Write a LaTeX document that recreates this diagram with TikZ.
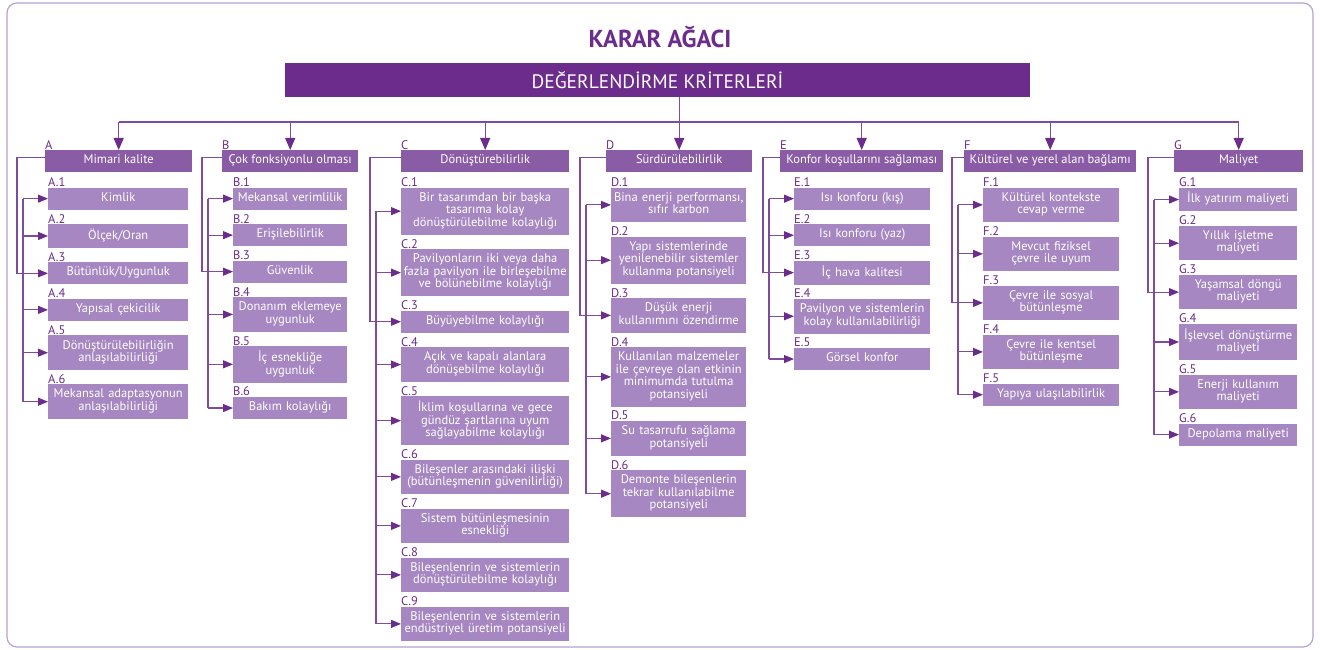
\documentclass[tikz,border=0pt]{standalone}
\usepackage{fontspec}
\setmainfont{PT Sans}
\usepackage{tikz}
\usetikzlibrary{arrows.meta}
\usetikzlibrary{positioning}
\definecolor{treePurple}{HTML}{6B2C8C}
\definecolor{treeMid}{HTML}{8A5CA6}
\definecolor{treeLight}{HTML}{A687C1}
\definecolor{treeLine}{HTML}{7E4C9F}
\definecolor{treeFrame}{HTML}{B9A0CF}

\begin{document}
\begin{tikzpicture}[x=1pt,y=-1pt]
\tikzset{Frame/.style={draw=treeFrame, line width=1.2pt, rounded corners=10pt}}
\tikzset{Header/.style={
  fill=treePurple,
  text=white,
  minimum width=745pt,
  minimum height=34pt,
  font=\fontsize{19.5}{21}\selectfont,
}}
\tikzset{FirstLevel/.style={
  fill=treeMid,
  text=white,
  anchor=north west,
  minimum width=#1,
  minimum height=22pt,
  inner sep=0pt,
  text height=8.75pt,
  text depth=3.75pt,
  font=\fontsize{12.5}{12.5}\selectfont,
}}
\tikzset{SecondLevel/.style={
  fill=treeLight,
  text=white,
  align=center,
  text width=#1,
  inner xsep=2pt,
  inner ysep=4.75pt,
  font=\fontsize{12.5}{12.5}\selectfont,
  execute at begin node={\lineskiplimit=-\maxdimen\relax\strut},
  execute at end node=\strut,
}}
\tikzset{Num/.style={
  label={[anchor=south west, inner sep=0pt, yshift=0.5pt, text=treePurple,
          font=\fontsize{12.5}{13}\selectfont]north west:#1}
}}
\tikzset{Link/.style={draw=treeLine, line width=1.1pt}}
\tikzset{LinkArrow/.style={Link, -{Triangle[length=10pt, width=8pt, color=treePurple]}}}
\tikzset{TopArrow/.style={Link, -{Triangle[length=12pt, width=10pt, color=treePurple]}}}

\useasboundingbox (0,0) rectangle (1320,650);
\draw[Frame] (7,3) rectangle (1313,647);

\node[font=\bfseries\fontsize{24.5}{26}\selectfont, text=treePurple] (title) at (660,37) {KARAR AĞACI};
\node[Header] (hdr) at (657.5,80) {DEĞERLENDİRME KRİTERLERİ};

% main criteria
\node[FirstLevel=147pt, Num=A] (catA) at (45,150) {Mimari kalite};
\node[FirstLevel=136pt, Num=B] (catB) at (222,150) {Çok fonksiyonlu olması};
\node[FirstLevel=168pt, Num=C] (catC) at (401,150) {Dönüştürebilirlik};
\node[FirstLevel=146pt, Num=D] (catD) at (606,150) {Sürdürülebilirlik};
\node[FirstLevel=163pt, Num=E] (catE) at (780,150) {Konfor koşullarını sağlaması};
\node[FirstLevel=172pt, Num=F] (catF) at (964,150) {Kültürel ve yerel alan bağlamı};
\node[FirstLevel=129pt, Num=G] (catG) at (1174,150) {Maliyet};

% A
\node[SecondLevel=136pt, Num=A.1, below right=15pt and 3pt of catA.south west] (a1) {Kimlik};
\node[SecondLevel=136pt, Num=A.2, below=14pt of a1] (a2) {Ölçek/Oran};
\node[SecondLevel=136pt, Num=A.3, below=14pt of a2] (a3) {Bütünlük/Uygunluk};
\node[SecondLevel=136pt, Num=A.4, below=14pt of a3] (a4) {Yapısal çekicilik};
\node[SecondLevel=136pt, Num=A.5, below=14pt of a4] (a5) {Dönüştürülebilirliğin\\anlaşılabilirliği};
\node[SecondLevel=136pt, Num=A.6, below=14pt of a5] (a6) {Mekansal adaptasyonun\\anlaşılabilirliği};

% B
\node[SecondLevel=110pt, Num=B.1, below right=15pt and 11pt of catB.south west] (b1) {Mekansal verimlilik};
\node[SecondLevel=110pt, Num=B.2, below=14pt of b1] (b2) {Erişilebilirlik};
\node[SecondLevel=110pt, Num=B.3, below=14pt of b2] (b3) {Güvenlik};
\node[SecondLevel=110pt, Num=B.4, below=14pt of b3] (b4) {Donanım eklemeye\\uygunluk};
\node[SecondLevel=110pt, Num=B.5, below=14pt of b4] (b5) {İç esnekliğe\\uygunluk};
\node[SecondLevel=110pt, Num=B.6, below=14pt of b5] (b6) {Bakım kolaylığı};

% C
\node[SecondLevel=164pt, Num=C.1, below right=15pt and 0pt of catC.south west] (c1) {Bir tasarımdan bir başka\\tasarıma kolay\\dönüştürülebilme kolaylığı};
\node[SecondLevel=164pt, Num=C.2, below=14pt of c1] (c2) {Pavilyonların iki veya daha\\fazla pavilyon ile birleşebilme\\ve bölünebilme kolaylığı};
\node[SecondLevel=164pt, Num=C.3, below=14pt of c2] (c3) {Büyüyebilme kolaylığı};
\node[SecondLevel=164pt, Num=C.4, below=14pt of c3] (c4) {Açık ve kapalı alanlara\\dönüşebilme kolaylığı};
\node[SecondLevel=164pt, Num=C.5, below=14pt of c4] (c5) {İklim koşullarına ve gece\\gündüz şartlarına uyum\\sağlayabilme kolaylığı};
\node[SecondLevel=164pt, Num=C.6, below=14pt of c5] (c6) {Bileşenler arasındaki ilişki\\(bütünleşmenin güvenilirliği)};
\node[SecondLevel=164pt, Num=C.7, below=14pt of c6] (c7) {Sistem bütünleşmesinin\\esnekliği};
\node[SecondLevel=164pt, Num=C.8, below=14pt of c7] (c8) {Bileşenlenrin ve sistemlerin\\dönüştürülebilme kolaylığı};
\node[SecondLevel=164pt, Num=C.9, below=14pt of c8] (c9) {Bileşenlenrin ve sistemlerin\\endüstriyel üretim potansiyeli};

% D
\node[SecondLevel=131pt, Num=D.1, below right=15pt and 5pt of catD.south west] (d1) {Bina enerji performansı,\\sıfır karbon};
\node[SecondLevel=131pt, Num=D.2, below=14pt of d1] (d2) {Yapı sistemlerinde\\yenilenebilir sistemler\\kullanma potansiyeli};
\node[SecondLevel=131pt, Num=D.3, below=14pt of d2] (d3) {Düşük enerji\\kullanımını özendirme};
\node[SecondLevel=131pt, Num=D.4, below=14pt of d3] (d4) {Kullanılan malzemeler\\ile çevreye olan etkinin\\minimumda tutulma\\potansiyeli};
\node[SecondLevel=131pt, Num=D.5, below=14pt of d4] (d5) {Su tasarrufu sağlama\\potansiyeli};
\node[SecondLevel=131pt, Num=D.6, below=14pt of d5] (d6) {Demonte bileşenlerin\\tekrar kullanılabilme\\potansiyeli};

% E
\node[SecondLevel=132pt, Num=E.1, below right=15pt and 14pt of catE.south west] (e1) {Isı konforu (kış)};
\node[SecondLevel=132pt, Num=E.2, below=14pt of e1] (e2) {Isı konforu (yaz)};
\node[SecondLevel=132pt, Num=E.3, below=14pt of e2] (e3) {İç hava kalitesi};
\node[SecondLevel=132pt, Num=E.4, below=14pt of e3] (e4) {Pavilyon ve sistemlerin\\kolay kullanılabilirliği};
\node[SecondLevel=132pt, Num=E.5, below=14pt of e4] (e5) {Görsel konfor};

% F
\node[SecondLevel=132pt, Num=F.1, below right=15pt and 19pt of catF.south west] (f1) {Kültürel kontekste\\cevap verme};
\node[SecondLevel=132pt, Num=F.2, below=14pt of f1] (f2) {Mevcut fiziksel\\çevre ile uyum};
\node[SecondLevel=132pt, Num=F.3, below=14pt of f2] (f3) {Çevre ile sosyal\\bütünleşme};
\node[SecondLevel=132pt, Num=F.4, below=14pt of f3] (f4) {Çevre ile kentsel\\bütünleşme};
\node[SecondLevel=132pt, Num=F.5, below=14pt of f4] (f5) {Yapıya ulaşılabilirlik};

% G
\node[SecondLevel=114pt, Num=G.1, below right=15pt and 5pt of catG.south west] (g1) {İlk yatırım maliyeti};
\node[SecondLevel=114pt, Num=G.2, below=14pt of g1] (g2) {Yıllık işletme\\maliyeti};
\node[SecondLevel=114pt, Num=G.3, below=14pt of g2] (g3) {Yaşamsal döngü\\maliyeti};
\node[SecondLevel=114pt, Num=G.4, below=14pt of g3] (g4) {İşlevsel dönüştürme\\maliyeti};
\node[SecondLevel=114pt, Num=G.5, below=14pt of g4] (g5) {Enerji kullanım\\maliyeti};
\node[SecondLevel=114pt, Num=G.6, below=14pt of g5] (g6) {Depolama maliyeti};

% top bus
\coordinate (bus) at ([yshift=28pt]catD.north);
\draw[Link] (hdr.south -| bus) -- (bus);
\draw[Link] (bus -| catA.north) -- (bus -| catG.north);
\draw[TopArrow] (bus -| catA.north) -- (catA.north);
\draw[TopArrow] (bus -| catB.north) -- (catB.north);
\draw[TopArrow] (bus -| catC.north) -- (catC.north);
\draw[TopArrow] (bus) -- (catD.north);
\draw[TopArrow] (bus -| catE.north) -- (catE.north);
\draw[TopArrow] (bus -| catF.north) -- (catF.north);
\draw[TopArrow] (bus -| catG.north) -- (catG.north);

% brackets from main criteria
\draw[Link] ([yshift=4pt]catA.west) -| ([xshift=-31pt]a3.west) -- ([xshift=-25pt]a3.west);
\draw[Link] ([yshift=4pt]catB.west) -| ([xshift=-31pt]b3.west) -- ([xshift=-25pt]b3.west);
\draw[Link] ([yshift=4pt]catC.west) -| ([xshift=-31pt]c3.west) -- ([xshift=-25pt]c3.west);
\draw[Link] ([yshift=4pt]catD.west) -| ([xshift=-31pt]d3.west) -- ([xshift=-25pt]d3.west);
\draw[Link] ([yshift=4pt]catE.west) -| ([xshift=-31pt]e3.west) -- ([xshift=-25pt]e3.west);
\draw[Link] ([yshift=4pt]catF.west) -| ([xshift=-31pt]f3.west) -- ([xshift=-25pt]f3.west);
\draw[Link] ([yshift=4pt]catG.west) -| ([xshift=-31pt]g3.west) -- ([xshift=-25pt]g3.west);

% sub criteria links
\draw[Link] ([xshift=-25pt]a1.west) -- ([xshift=-25pt]a6.west);
\draw[LinkArrow] ([xshift=-25pt]a1.west) -- (a1.west);
\draw[LinkArrow] ([xshift=-25pt]a2.west) -- (a2.west);
\draw[LinkArrow] ([xshift=-25pt]a3.west) -- (a3.west);
\draw[LinkArrow] ([xshift=-25pt]a4.west) -- (a4.west);
\draw[LinkArrow] ([xshift=-25pt]a5.west) -- (a5.west);
\draw[LinkArrow] ([xshift=-25pt]a6.west) -- (a6.west);

\draw[Link] ([xshift=-25pt]b1.west) -- ([xshift=-25pt]b6.west);
\draw[LinkArrow] ([xshift=-25pt]b1.west) -- (b1.west);
\draw[LinkArrow] ([xshift=-25pt]b2.west) -- (b2.west);
\draw[LinkArrow] ([xshift=-25pt]b3.west) -- (b3.west);
\draw[LinkArrow] ([xshift=-25pt]b4.west) -- (b4.west);
\draw[LinkArrow] ([xshift=-25pt]b5.west) -- (b5.west);
\draw[LinkArrow] ([xshift=-25pt]b6.west) -- (b6.west);

\draw[Link] ([xshift=-25pt]c1.west) -- ([xshift=-25pt]c9.west);
\draw[LinkArrow] ([xshift=-25pt]c1.west) -- (c1.west);
\draw[LinkArrow] ([xshift=-25pt]c2.west) -- (c2.west);
\draw[LinkArrow] ([xshift=-25pt]c3.west) -- (c3.west);
\draw[LinkArrow] ([xshift=-25pt]c4.west) -- (c4.west);
\draw[LinkArrow] ([xshift=-25pt]c5.west) -- (c5.west);
\draw[LinkArrow] ([xshift=-25pt]c6.west) -- (c6.west);
\draw[LinkArrow] ([xshift=-25pt]c7.west) -- (c7.west);
\draw[LinkArrow] ([xshift=-25pt]c8.west) -- (c8.west);
\draw[LinkArrow] ([xshift=-25pt]c9.west) -- (c9.west);

\draw[Link] ([xshift=-25pt]d1.west) -- ([xshift=-25pt]d6.west);
\draw[LinkArrow] ([xshift=-25pt]d1.west) -- (d1.west);
\draw[LinkArrow] ([xshift=-25pt]d2.west) -- (d2.west);
\draw[LinkArrow] ([xshift=-25pt]d3.west) -- (d3.west);
\draw[LinkArrow] ([xshift=-25pt]d4.west) -- (d4.west);
\draw[LinkArrow] ([xshift=-25pt]d5.west) -- (d5.west);
\draw[LinkArrow] ([xshift=-25pt]d6.west) -- (d6.west);

\draw[Link] ([xshift=-25pt]e1.west) -- ([xshift=-25pt]e5.west);
\draw[LinkArrow] ([xshift=-25pt]e1.west) -- (e1.west);
\draw[LinkArrow] ([xshift=-25pt]e2.west) -- (e2.west);
\draw[LinkArrow] ([xshift=-25pt]e3.west) -- (e3.west);
\draw[LinkArrow] ([xshift=-25pt]e4.west) -- (e4.west);
\draw[LinkArrow] ([xshift=-25pt]e5.west) -- (e5.west);

\draw[Link] ([xshift=-25pt]f1.west) -- ([xshift=-25pt]f5.west);
\draw[LinkArrow] ([xshift=-25pt]f1.west) -- (f1.west);
\draw[LinkArrow] ([xshift=-25pt]f2.west) -- (f2.west);
\draw[LinkArrow] ([xshift=-25pt]f3.west) -- (f3.west);
\draw[LinkArrow] ([xshift=-25pt]f4.west) -- (f4.west);
\draw[LinkArrow] ([xshift=-25pt]f5.west) -- (f5.west);

\draw[Link] ([xshift=-25pt]g1.west) -- ([xshift=-25pt]g6.west);
\draw[LinkArrow] ([xshift=-25pt]g1.west) -- (g1.west);
\draw[LinkArrow] ([xshift=-25pt]g2.west) -- (g2.west);
\draw[LinkArrow] ([xshift=-25pt]g3.west) -- (g3.west);
\draw[LinkArrow] ([xshift=-25pt]g4.west) -- (g4.west);
\draw[LinkArrow] ([xshift=-25pt]g5.west) -- (g5.west);
\draw[LinkArrow] ([xshift=-25pt]g6.west) -- (g6.west);
\end{tikzpicture}
\end{document}
